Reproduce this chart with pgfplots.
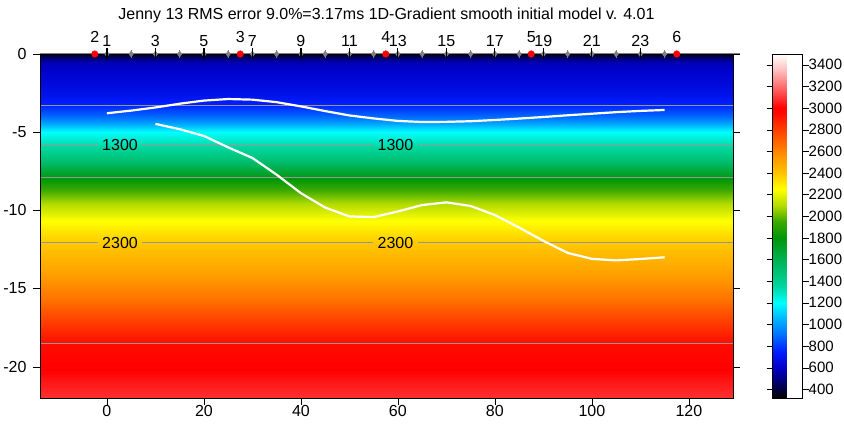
\documentclass[border=0pt]{standalone}
\usepackage{pgfplots}
\pgfplotsset{compat=1.18}
\usepackage{fontspec}
\setmainfont{Liberation Sans}
\newcommand{\lf}{\fontsize{16}{19}\selectfont}
\newcommand{\cf}{\fontsize{15}{18}\selectfont}
\pgfplotsset{colormap={rays}{rgb255(320pt)=(0,0,0) rgb255(450pt)=(0,0,100) rgb255(600pt)=(0,0,200) rgb255(750pt)=(0,30,255) rgb255(900pt)=(0,110,255) rgb255(1050pt)=(0,180,255) rgb255(1200pt)=(0,255,255) rgb255(1350pt)=(0,215,160) rgb255(1550pt)=(0,185,100) rgb255(1800pt)=(0,150,10) rgb255(1950pt)=(60,170,0) rgb255(2100pt)=(180,220,0) rgb255(2250pt)=(255,255,0) rgb255(2400pt)=(255,195,0) rgb255(2550pt)=(255,150,0) rgb255(2750pt)=(255,80,0) rgb255(2950pt)=(255,10,0) rgb255(3000pt)=(255,0,0) rgb255(3200pt)=(255,110,110) rgb255(3350pt)=(255,190,190) rgb255(3500pt)=(255,255,255)}}
\definecolor{cgray}{RGB}{150,150,150}
\definecolor{sgray}{RGB}{128,128,128}
\begin{document}
\begin{tikzpicture}
\begin{axis}[
  name=ax,
  scale only axis, width=693pt, height=344pt,
  xmin=-13.8, xmax=129.1, ymin=-22, ymax=0,
  xtick={0,20,...,120}, ytick={-20,-15,-10,-5,0},
  xtick pos=bottom, ytick pos=both, yticklabel pos=left,
  tick align=outside, major tick length=7pt,
  tick style={black, thin},
  /pgf/number format/assume math mode=true,
  tick label style={font=\lf},
  xticklabel style={yshift=3pt},
  yticklabel style={xshift=-3pt},
  clip=false, axis on top,
  colormap name=rays,
  point meta min=320, point meta max=3500,
  colorbar,
  colorbar style={
    at={(parent axis.north east)}, anchor=north west, xshift=31pt,
    width=30pt,
    ytick={400,600,...,3400},
    tick align=outside, major tick length=6pt,
    /pgf/number format/1000 sep={},
    /pgf/number format/assume math mode=true,
    yticklabel style={font=\cf, inner sep=1pt, xshift=-1pt},
  },
  title={Jenny 13 RMS error 9.0\%=3.17ms 1D-Gradient smooth initial model v. 4.01},
  title style={font=\lf, at={(0.5,1)}, anchor=base, yshift=28pt},
]
% velocity field
\addplot[surf, shader=interp, mesh/cols=2, point meta=explicit] table[meta=v] {
x y v
-13.8 0 360
129.1 0 360
-13.8 -0.25 470
129.1 -0.25 470
-13.8 -0.6 580
129.1 -0.6 580
-13.8 -1.2 620
129.1 -1.2 620
-13.8 -2.0 650
129.1 -2.0 650
-13.8 -2.7 700
129.1 -2.7 700
-13.8 -3.3 770
129.1 -3.3 770
-13.8 -4.0 900
129.1 -4.0 900
-13.8 -4.5 1030
129.1 -4.5 1030
-13.8 -5.0 1200
129.1 -5.0 1200
-13.8 -5.8 1330
129.1 -5.8 1330
-13.8 -6.8 1500
129.1 -6.8 1500
-13.8 -8.0 1800
129.1 -8.0 1800
-13.8 -8.7 1950
129.1 -8.7 1950
-13.8 -9.6 2100
129.1 -9.6 2100
-13.8 -10.7 2250
129.1 -10.7 2250
-13.8 -12.0 2380
129.1 -12.0 2380
-13.8 -13.8 2500
129.1 -13.8 2500
-13.8 -15.7 2650
129.1 -15.7 2650
-13.8 -17.6 2850
129.1 -17.6 2850
-13.8 -18.6 2950
129.1 -18.6 2950
-13.8 -20.2 3000
129.1 -20.2 3000
-13.8 -21.0 3040
129.1 -21.0 3040
-13.8 -22.0 3090
129.1 -22.0 3090
};
% contour lines
\addplot[cgray, line width=0.9pt] coordinates {(-13.8,-3.32) (129.1,-3.32)};
\addplot[cgray, line width=0.9pt] coordinates {(-13.8,-7.9) (129.1,-7.9)};
\addplot[cgray, line width=0.9pt] coordinates {(-13.8,-18.5) (129.1,-18.5)};
\addplot[cgray, line width=0.9pt] coordinates {(-13.8,-5.83) (-1.9,-5.83)};
\addplot[cgray, line width=0.9pt] coordinates {(7.2,-5.83) (54.8,-5.83)};
\addplot[cgray, line width=0.9pt] coordinates {(64.1,-5.83) (129.1,-5.83)};
\addplot[cgray, line width=0.9pt] coordinates {(-13.8,-12.07) (-1.9,-12.07)};
\addplot[cgray, line width=0.9pt] coordinates {(7.2,-12.07) (54.8,-12.07)};
\addplot[cgray, line width=0.9pt] coordinates {(64.1,-12.07) (129.1,-12.07)};
\addplot[only marks, mark=none, nodes near coords, point meta=explicit symbolic,
  every node near coord/.append style={anchor=center, font=\lf, text=black, inner sep=0pt}]
  table[meta=l] {
x y l
2.7 -5.83 1300
59.5 -5.83 1300
2.7 -12.07 2300
59.5 -12.07 2300
};
% white curves
\addplot[white, line width=2.2pt] coordinates {
(0,-3.79) (5,-3.62) (10,-3.42) (15,-3.18) (20,-2.98) (25,-2.88) (30,-2.92) (35,-3.08)
(40,-3.35) (45,-3.65) (50,-3.93) (55,-4.12) (60,-4.28) (65,-4.35) (70,-4.34) (75,-4.3)
(80,-4.22) (85,-4.13) (90,-4.03) (95,-3.92) (100,-3.82) (105,-3.72) (110,-3.64) (115,-3.58)};
\addplot[white, line width=2.2pt] coordinates {
(10,-4.47) (15,-4.81) (20,-5.24) (25,-5.97) (30,-6.65) (35,-7.72) (40,-8.9) (45,-9.82)
(50,-10.39) (55,-10.43) (60,-10.07) (65,-9.66) (70,-9.49) (75,-9.72) (80,-10.3) (85,-11.1)
(90,-11.95) (95,-12.72) (100,-13.1) (105,-13.2) (110,-13.11) (115,-13.0)};
% surface line
\addplot[sgray, line width=1.5pt] coordinates {(-13.8,0) (130.5,0)};
% geophones
\addplot[only marks, mark=diamond*, mark size=3pt, sgray] coordinates {
(0,0) (5,0) (10,0) (15,0) (20,0) (25,0) (30,0) (35,0) (40,0) (45,0) (50,0) (55,0)
(60,0) (65,0) (70,0) (75,0) (80,0) (85,0) (90,0) (95,0) (100,0) (105,0) (110,0) (115,0)};
\addplot[only marks, mark=|, mark size=4pt, sgray, mark options={line width=1pt}] coordinates {
(5,0) (15,0) (25,0) (35,0) (45,0) (55,0) (65,0) (75,0) (85,0) (95,0) (105,0) (115,0)};
\addplot[only marks, mark=|, mark size=5.5pt, black, mark options={line width=1.2pt},
  nodes near coords, point meta=explicit symbolic,
  every node near coord/.append style={anchor=base, yshift=7pt, font=\lf, text=black, inner sep=0pt}]
  table[meta=l] {
x y l
0 0 1
10 0 3
20 0 5
30 0 7
40 0 9
50 0 11
60 0 13
70 0 15
80 0 17
90 0 19
100 0 21
110 0 23
};
% shots
\addplot[only marks, mark=*, mark size=3.3pt, red, mark options={draw=red, fill=red},
  nodes near coords, point meta=explicit symbolic,
  every node near coord/.append style={anchor=base, yshift=11pt, font=\lf, text=black, inner sep=0pt}]
  table[meta=l] {
x y l
-2.5 0 2
27.5 0 3
57.5 0 4
87.5 0 5
117.5 0 6
};
\end{axis}
\pgfresetboundingbox
\path[use as bounding box] ([shift={(-40pt,-30pt)}]ax.south west) rectangle ([shift={(111pt,54pt)}]ax.north east);
\end{tikzpicture}
\end{document}
